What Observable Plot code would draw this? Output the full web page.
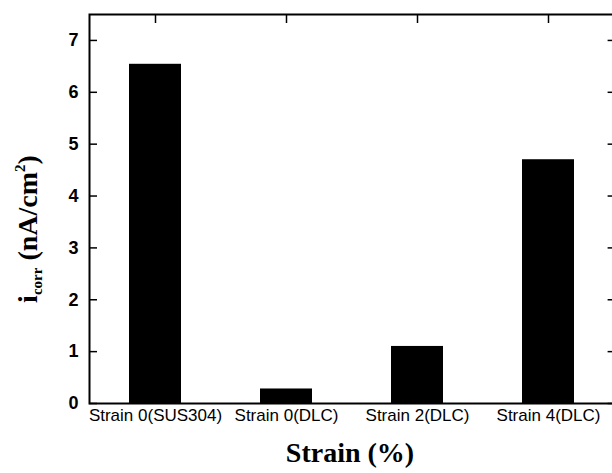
<!DOCTYPE html>
<html>
<head>
<meta charset="utf-8">
<script src="https://cdn.jsdelivr.net/npm/d3@7"></script>
<script src="https://cdn.jsdelivr.net/npm/@observablehq/plot@0.6"></script>
<style>
  html, body { margin: 0; padding: 0; background: #fff; overflow: hidden; }
</style>
</head>
<body>
<div id="chart"></div>
<script>
const categories = ["Strain 0(SUS304)", "Strain 0(DLC)", "Strain 2(DLC)", "Strain 4(DLC)"];
const icorr = [6.54, 0.28, 1.10, 4.70];
const yTicks = [0, 1, 2, 3, 4, 5, 6, 7];

const data = categories.map((c, i) => ({category: c, value: icorr[i]}));

const W = 612, H = 473;
const chart = Plot.plot({
  width: W,
  height: H,
  marginLeft: 89,
  marginRight: -2.6,
  marginTop: 14,
  marginBottom: 70,
  style: {background: "#fff", color: "#000", overflow: "visible"},
  x: {domain: categories, paddingInner: 0.6, paddingOuter: 0.3, label: null},
  y: {domain: [0, 7.5], label: null},
  marks: [
    Plot.axisY({ticks: yTicks, anchor: "left", tickSize: -8, tickPadding: 19, strokeWidth: 1.5,
      fontSize: 18, fontWeight: "bold", fontFamily: "Liberation Sans, Arial, sans-serif", label: null}),
    Plot.axisY({ticks: yTicks, anchor: "right", tickSize: -8, text: null, strokeWidth: 1.5, label: null}),
    Plot.axisX({anchor: "top", tickSize: -8, text: null, strokeWidth: 1.5, label: null}),
    Plot.axisX({anchor: "bottom", tickSize: 0, tickPadding: 5,
      fontSize: 17, fontFamily: "Liberation Sans, Arial, sans-serif", label: null}),
    Plot.barY(data, {x: "category", y: "value", fill: "#000"}),
    Plot.frame({stroke: "#000", strokeWidth: 2})
  ]
});
document.getElementById("chart").appendChild(chart);

const svg = d3.select(chart);
// y-axis title with subscript and superscript
const yt = svg.append("text")
  .attr("transform", "translate(37,229) rotate(-90)")
  .attr("text-anchor", "middle")
  .attr("font-family", "Liberation Serif, Times New Roman, serif")
  .attr("font-weight", "bold")
  .attr("font-size", 28)
  .attr("fill", "#000");
yt.append("tspan").text("i");
yt.append("tspan").attr("font-size", 15).attr("dy", 5).text("corr");
yt.append("tspan").attr("dy", -5).text(" (nA/cm");
yt.append("tspan").attr("font-size", 15).attr("dy", -12).text("2");
yt.append("tspan").attr("dy", 12).text(")");

svg.append("text")
  .attr("x", 350).attr("y", 462)
  .attr("text-anchor", "middle")
  .attr("font-family", "Liberation Serif, Times New Roman, serif")
  .attr("font-weight", "bold")
  .attr("font-size", 28)
  .attr("fill", "#000")
  .text("Strain (%)");
</script>
</body>
</html>
